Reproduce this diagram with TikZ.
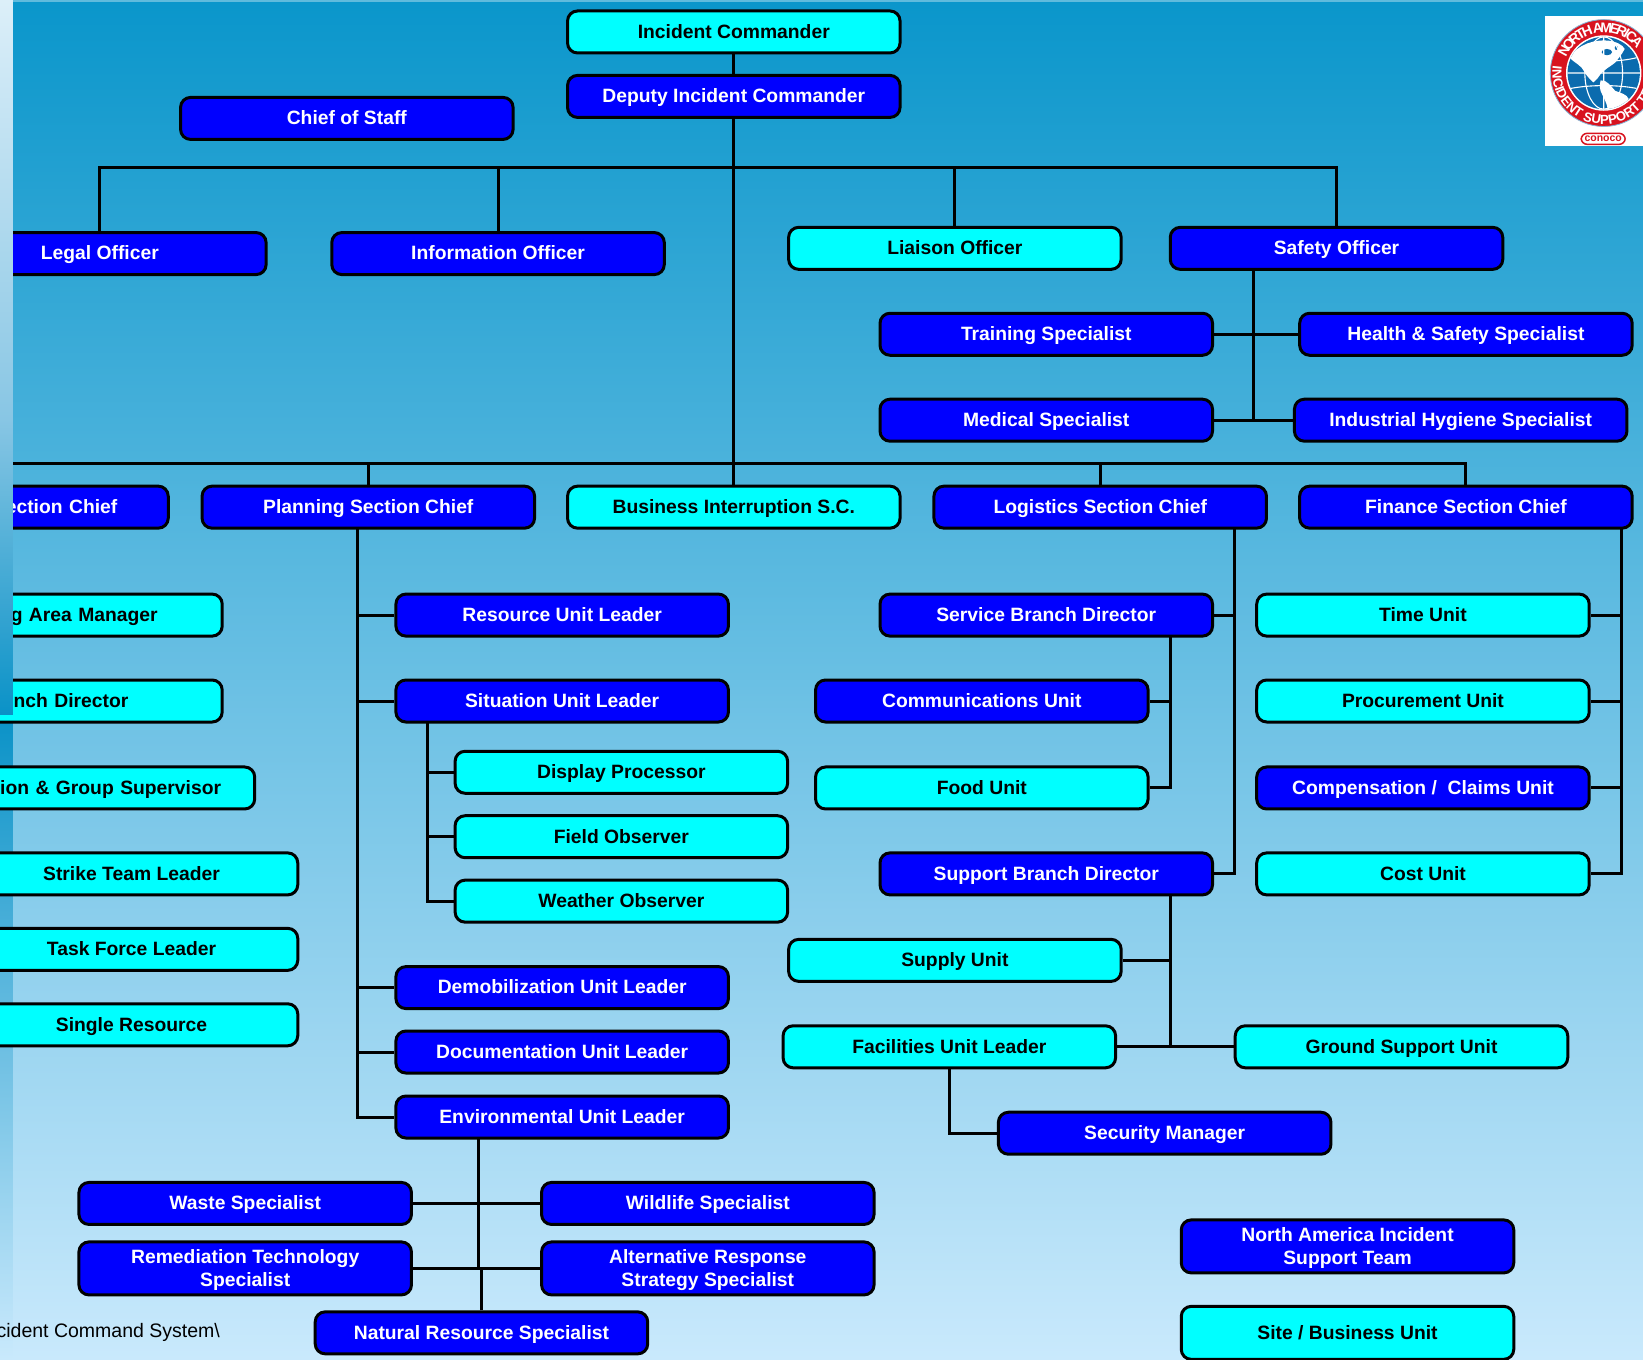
\documentclass[tikz,border=0pt]{standalone}
\usepackage{fontspec}
\setmainfont{Liberation Sans}
\usetikzlibrary{decorations.text}
\definecolor{bgtop}{HTML}{0A96CB}
\definecolor{bgmid}{HTML}{76C3E8}
\definecolor{bgbot}{HTML}{C9E9FC}
\definecolor{striptop}{HTML}{DCEFF9}
\definecolor{stripmid}{HTML}{88C6E4}
\definecolor{stripend}{HTML}{0A92C7}
\definecolor{bxblue}{HTML}{0000FF}
\definecolor{bxcyan}{HTML}{00FFFF}
\definecolor{logored}{HTML}{D8131F}
\definecolor{logoblue}{HTML}{0B6BAE}
\tikzset{
 box/.style={draw=black,line width=3pt,rounded corners=10pt,minimum width=332.5pt,minimum height=42pt,inner sep=0pt,align=center,font=\fontsize{19.3}{23}\selectfont\bfseries},
 boxline/.style={box,text height=14pt,text depth=1.4pt},
 tall/.style={box,minimum height=53pt},
 blu/.style={fill=bxblue,text=white},
 cya/.style={fill=bxcyan,text=black},
 conn/.style={draw=black,line width=3pt},
 cutbox/.style={boxline,anchor=east,align=right},
}
\newcommand{\bx}[5]{\node[boxline,#4] (#1) at (#2,#3) {#5};}
\newcommand{\cutbx}[6]{% name, right, y, style, inset(shown), text
 \pgfmathsetlengthmacro{\myW}{(#2+100)*1.0478-3}
 \pgfmathsetlengthmacro{\myI}{(#5)*1.0478-1.5}
 \pgfmathsetlengthmacro{\myT}{\myW-2*\myI}
 \node[cutbox,#4,minimum width=\myW,text width=\myT,inner xsep=\myI] (#1) at (#2,#3) {#6};}
\newcommand{\tl}{\rule{0pt}{17pt}}
\begin{document}
\begin{tikzpicture}[x=1.0478pt,y=-1.0478pt]
\useasboundingbox (0,0) rectangle (1568,1297);
\clip (0,0) rectangle (1568,1297);
\shade[top color=bgtop,middle color=bgmid,bottom color=bgbot] (0,0) rectangle (1568,1297);
\fill[white!35!bgtop] (0,0) rectangle (1568,1.7);
% lower strip (behind the boxes)
\shade[top color=stripend,bottom color=bgbot] (0,682) rectangle (12.4,1297);
% connector anchors
\coordinate (hA) at (700,159.5);
\coordinate (hB) at (700,442);
\coordinate (leftB) at (0,442);
% boxes
\bx{ic}{700.3}{30.5}{cya}{Incident Commander}
\bx{dic}{700.3}{92}{blu}{Deputy Incident Commander}
\bx{cos}{331}{113}{blu}{Chief of Staff}
\bx{legal}{95.3}{242}{blu}{Legal Officer}
\bx{info}{475.3}{242}{blu}{Information Officer}
\bx{liaison}{911.3}{237}{cya}{Liaison Officer}
\bx{safety}{1275.5}{237}{blu}{Safety Officer}
\bx{train}{998.5}{319}{blu}{Training Specialist}
\bx{health}{1399}{319}{blu}{Health \& Safety Specialist}
\bx{medical}{998.5}{401}{blu}{Medical Specialist}
\bx{hyg}{1394}{401}{blu}{Industrial Hygiene Specialist}
\cutbx{ops}{162}{484}{blu}{50}{ection Chief}
\bx{plan}{351.5}{484}{blu}{Planning Section Chief}
\bx{bi}{700.3}{484}{cya}{Business Interruption S.C.}
\bx{log}{1050}{484}{blu}{Logistics Section Chief}
\bx{fin}{1399}{484}{blu}{Finance Section Chief}
\cutbx{staging}{213.5}{587}{cya}{63}{g Area Manager}
\cutbx{branch}{213.5}{669}{cya}{91}{nch Director}
\cutbx{division}{244.5}{752}{cya}{33.5}{sion \& Group Supervisor}
\bx{strike}{125.5}{834}{cya}{Strike Team Leader}
\bx{task}{125.5}{906}{cya}{Task Force Leader}
\bx{single}{125.5}{978}{cya}{Single Resource}
\bx{res}{536.5}{587}{blu}{Resource Unit Leader}
\bx{sit}{536.5}{669}{blu}{Situation Unit Leader}
\bx{disp}{593}{737}{cya}{Display Processor}
\bx{field}{593}{798.5}{cya}{Field Observer}
\bx{weather}{593}{860}{cya}{Weather Observer}
\bx{demob}{536.5}{942.5}{blu}{Demobilization Unit Leader}
\bx{doc}{536.5}{1004}{blu}{Documentation Unit Leader}
\bx{env}{536.5}{1066}{blu}{Environmental Unit Leader}
\bx{waste}{234}{1148.5}{blu}{Waste Specialist}
\bx{wild}{675.5}{1148.5}{blu}{Wildlife Specialist}
\node[tall,blu] (rem) at (234,1210.5) {\tl Remediation Technology\\Specialist};
\node[tall,blu] (alt) at (675.5,1210.5) {\tl Alternative Response\\Strategy Specialist};
\bx{nat}{459.5}{1272}{blu}{Natural Resource Specialist}
\bx{service}{998.5}{587}{blu}{Service Branch Director}
\bx{comm}{937}{669}{blu}{Communications Unit}
\bx{food}{937}{752}{cya}{Food Unit}
\bx{support}{998.5}{834}{blu}{Support Branch Director}
\bx{supply}{911.3}{916.5}{cya}{Supply Unit}
\bx{fac}{906}{999}{cya}{Facilities Unit Leader}
\bx{ground}{1337.5}{999}{cya}{Ground Support Unit}
\bx{sec}{1111.5}{1081.5}{blu}{Security Manager}
\bx{time}{1358}{587}{cya}{Time Unit}
\bx{proc}{1358}{669}{cya}{Procurement Unit}
\bx{comp}{1358}{752}{blu}{Compensation /\ \ Claims Unit}
\bx{cost}{1358}{834}{cya}{Cost Unit}
\node[tall,blu] (nai) at (1286,1189.5) {\tl North America Incident\\Support Team};
\node[tall,cya] (site) at (1286,1272) {Site / Business Unit};
% connectors
\begin{scope}[conn]
\draw (ic) -- (dic);
\draw (dic) -- (bi);
\draw (legal.north) -- (legal.north |- hA) -- (safety.north |- hA) -- (safety.north);
\draw (info.north) -- (info.north |- hA);
\draw (liaison.north) -- (liaison.north |- hA);
\coordinate (sx) at (1196,258);
\draw (sx) -- (sx |- medical);
\draw (train) -- (health);
\draw (medical) -- (hyg);
\draw (leftB) -- (leftB -| fin.north) -- (fin.north);
\draw (plan.north) -- (plan.north |- hB);
\draw (log.north) -- (log.north |- hB);
% planning
\coordinate (px) at (341,505);
\draw (px) -- (px |- env) -- (env);
\draw (px |- res) -- (res);
\draw (px |- sit) -- (sit);
\draw (px |- demob) -- (demob);
\draw (px |- doc) -- (doc);
% situation
\coordinate (sitx) at (408,690);
\draw (sitx) -- (sitx |- weather) -- (weather);
\draw (sitx |- disp) -- (disp);
\draw (sitx |- field) -- (field);
% environmental
\coordinate (envx) at (457,1087);
\draw (envx) -- (envx |- rem);
\draw (waste) -- (wild);
\draw (rem) -- (alt);
\draw (nat.north) -- (nat.north |- rem);
% logistics
\coordinate (lx) at (1178,505);
\draw (lx) -- (lx |- support) -- (support);
\draw (lx |- service) -- (service);
% service
\coordinate (svx) at (1117,608);
\draw (svx) -- (svx |- food) -- (food);
\draw (svx |- comm) -- (comm);
% support
\coordinate (spx) at (1117,855);
\draw (spx) -- (spx |- ground);
\draw (spx |- supply) -- (supply);
\draw (fac) -- (ground);
% facilities
\draw (fac.south) -- (fac.south |- sec) -- (sec);
% finance
\coordinate (fx) at (1547,505);
\draw (fx) -- (fx |- cost) -- (cost);
\draw (fx |- time) -- (time);
\draw (fx |- proc) -- (proc);
\draw (fx |- comp) -- (comp);
\end{scope}
% footer
\node[anchor=east,inner sep=0pt,font=\fontsize{19.5}{23}\selectfont] (path) at (210,1272) {cident Command System\textbackslash};
% upper strip (in front of the boxes)
\shade[top color=striptop,bottom color=stripmid] (0,0) rectangle (12.4,400);
\shade[top color=stripmid,bottom color=stripend] (0,400) rectangle (12.4,682);
% logo
\fill[white] (1474.5,15) rectangle (1568,139.5);
\begin{scope}[shift={(1530.5,69.7)}]
 \fill[logored,draw=logoblue!50!white,line width=.8pt] (0,0) circle (51);
 \fill[white] (0,0) circle (36);
 \fill[logoblue] (0,0) circle (34.5);
 \begin{scope}
  \clip (0,0) circle (34.5);
  % north america
  \fill[white] (-33,-15) .. controls (-24,-28) and (-8,-32) .. (4,-31) .. controls (12,-30) and (18,-27) .. (20,-23) .. controls (17,-17) and (13,-13) .. (11,-10) .. controls (6,-6) and (0,-3) .. (-3,1) .. controls (-5,4) and (-7,7) .. (-10,9) .. controls (-13,6) and (-17,2) .. (-19,-2) .. controls (-21,-7) and (-27,-9) .. (-33,-15) -- cycle;
  % south america
  \fill[white] (-3,7) .. controls (3,6) and (7,13) .. (11,17) .. controls (16,19) and (22,20) .. (24,25) .. controls (22,30) and (17,33) .. (13,35) -- (4,35) .. controls (3,28) and (-1,22) .. (-3,17) .. controls (-4,13) and (-4,10) .. (-3,7) -- cycle;
  \fill[logoblue] (3,-20) ellipse (5 and 3);
  \fill[logoblue] (12,-24) ellipse (1.5 and 2);
  \draw[white,line width=1.1pt] (-35,0) -- (35,0) (-33,-15) .. controls (-14,-10) and (14,-10) .. (33,-15) (-33,15) .. controls (-14,11) and (14,11) .. (33,15) (0,-35) -- (0,35);
  \draw[white,line width=1.1pt] (0,0) ellipse (18 and 34.5);
 \end{scope}
 \path[decorate,decoration={text along path,text align={left indent=0pt},raise=-17pt,
   text={|\color{white}\fontsize{14}{15}\selectfont\bfseries|NORTH AMERICA}}]
   (-156:55) arc[start angle=-156,end angle=-15,radius=55];
 \path[decorate,decoration={text along path,text align={left indent=0pt},
   text={|\color{white}\fontsize{13.2}{15}\selectfont\bfseries|INCIDENT SUPPORT TEAM}}]
   (188:49) arc[start angle=188,end angle=-20,radius=49];
\end{scope}
\node[draw=logored,line width=1.5pt,rounded corners=6pt,fill=white,text=logored,minimum width=44pt,minimum height=11pt,inner sep=0pt,font=\fontsize{10.5}{10}\selectfont\bfseries] (conoco) at (1530,132.5) {conoco};
\end{tikzpicture}
\end{document}
